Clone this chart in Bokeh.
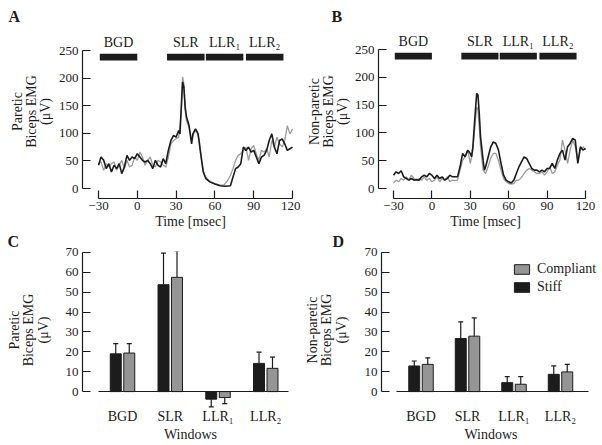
import numpy as np
from bokeh.plotting import figure
from bokeh.layouts import row, column
from bokeh.models import ColumnDataSource, FixedTicker, Legend, LegendItem, Range1d, LinearAxis
from bokeh.transform import dodge
from bokeh.core.properties import value
from bokeh.embed import file_html
from bokeh.resources import INLINE

FONT = "Liberation Serif"
INK = "#1c1c1c"
GRAY = "#9c9c9c"
BARGRAY = "#959595"

# ---------------- data ----------------
windows = ["BGD", "SLR", "LLR\u2081", "LLR\u2082"]
win_start = [-29, 23, 53, 84]
win_end = [0, 52, 82, 113]

time_ticks = [-30, 0, 30, 60, 90, 120]
emg_ticks = [0, 50, 100, 150, 200, 250]
bar_ticks = [0, 10, 20, 30, 40, 50, 60, 70]

# Panel A: paretic biceps EMG traces (uV)
t_pa_stiff = [-30, -28, -26, -24, -22, -20, -18, -16, -14, -12, -10, -8, -6, -4, -2, 0, 2, 4, 6, 8,
              10, 12, 14, 16, 18, 20, 22, 24, 26, 28, 30, 32, 33, 34, 35, 36, 37, 38, 40, 42,
              43, 45, 47, 49, 51, 53, 56, 60, 64, 68, 72, 74, 76, 78, 80, 82, 84, 86, 88, 90,
              92, 94, 96, 98, 100, 102, 104, 106, 108, 110, 112, 114, 116, 118, 120]
emg_pa_stiff = [42, 57, 51, 36, 45, 30, 42, 36, 45, 27, 39, 60, 51, 57, 54, 63, 57, 51, 48, 51,
                45, 36, 51, 42, 39, 54, 45, 69, 87, 96, 93, 105, 99, 148, 193, 184, 148, 130, 114, 81,
                99, 108, 99, 63, 30, 18, 12, 8, 5, 4, 5, 21, 36, 39, 45, 75, 69, 75, 66, 69,
                57, 45, 57, 60, 69, 87, 99, 75, 63, 87, 90, 81, 69, 72, 75]
t_pa_comp = [-30, -28, -26, -24, -22, -20, -18, -16, -14, -12, -10, -8, -6, -4, -2, 0, 2, 4, 6, 8,
             10, 12, 14, 16, 18, 20, 22, 24, 26, 28, 30, 32, 34, 35, 36, 37, 38, 40, 42, 44,
             46, 48, 50, 52, 55, 60, 64, 67, 70, 72, 74, 76, 78, 80, 82, 84, 86, 88, 90, 92,
             94, 96, 98, 100, 102, 104, 106, 108, 110, 112, 114, 116, 118, 120]
emg_pa_comp = [45, 48, 33, 45, 39, 45, 48, 33, 42, 51, 36, 51, 39, 42, 57, 51, 66, 57, 42, 51,
               57, 42, 39, 51, 48, 42, 39, 57, 81, 87, 90, 93, 136, 202, 190, 142, 123, 111, 87, 102,
               105, 87, 45, 24, 15, 9, 6, 6, 15, 24, 36, 51, 60, 63, 69, 75, 51, 72, 78, 63,
               51, 69, 66, 72, 57, 87, 75, 93, 81, 75, 87, 114, 99, 108]

# Panel B: non-paretic biceps EMG traces (uV)
t_np_stiff = [-30, -28, -26, -24, -22, -20, -18, -16, -14, -12, -10, -8, -6, -4, -2, 0, 2, 4, 6, 8,
              10, 12, 14, 16, 18, 20, 22, 24, 26, 28, 30, 31, 32, 34, 35, 36, 37, 38, 40, 41,
              42, 44, 46, 48, 50, 52, 54, 56, 58, 60, 62, 64, 66, 68, 70, 72, 74, 76, 78, 80,
              82, 84, 86, 88, 90, 92, 94, 96, 98, 100, 102, 104, 106, 108, 110, 112, 114, 116, 118, 120]
emg_np_stiff = [24, 30, 27, 32, 21, 18, 15, 18, 15, 16, 15, 21, 24, 21, 27, 24, 18, 24, 18, 21,
                15, 18, 24, 21, 21, 21, 39, 63, 57, 69, 63, 57, 75, 141, 171, 168, 135, 93, 51, 33,
                39, 57, 75, 84, 81, 69, 45, 24, 15, 12, 10, 15, 27, 39, 48, 57, 54, 45, 36, 33,
                33, 30, 33, 30, 36, 36, 45, 36, 51, 63, 69, 51, 75, 81, 90, 87, 45, 75, 69, 72]
t_np_comp = [-30, -28, -26, -24, -22, -20, -18, -16, -14, -12, -10, -8, -6, -4, -2, 0, 2, 4, 6, 8,
             10, 12, 14, 16, 18, 20, 22, 24, 26, 28, 30, 32, 34, 35, 36, 37, 38, 40, 42, 44,
             46, 48, 50, 52, 54, 56, 58, 60, 62, 64, 66, 68, 70, 72, 74, 76, 78, 80, 82, 84,
             86, 88, 90, 92, 94, 96, 98, 100, 102, 104, 106, 108, 110, 112, 114, 116, 118, 120]
emg_np_comp = [10, 15, 12, 18, 15, 21, 15, 24, 18, 15, 18, 15, 21, 15, 18, 12, 15, 21, 12, 18,
               15, 21, 12, 15, 14, 15, 33, 51, 57, 69, 45, 69, 123, 147, 141, 111, 75, 33, 27, 40,
               55, 63, 63, 50, 33, 18, 12, 9, 8, 9, 15, 15, 20, 27, 33, 36, 33, 30, 27, 27,
               30, 24, 30, 39, 27, 30, 42, 51, 87, 69, 45, 69, 87, 75, 51, 69, 75, 70]

# Panels C/D: window means and SEM (uV)
pa_stiff_mean = [19.0, 53.8, -3.8, 14.2]
pa_stiff_sem = [5.1, 15.9, 3.9, 5.7]
pa_comp_mean = [19.4, 57.5, -3.0, 11.7]
pa_comp_sem = [4.7, 13.3, 3.0, 5.7]
np_stiff_mean = [12.9, 26.7, 4.5, 8.7]
np_stiff_sem = [2.5, 8.4, 3.0, 4.2]
np_comp_mean = [13.7, 27.9, 3.7, 9.9]
np_comp_sem = [3.3, 9.2, 3.8, 3.8]


# ---------------- helpers ----------------
def make_fig(origin, size, frame, xa, ya, letter, letter_left, letter_valign):
    ox, oy = origin
    W, H = size
    L, T, R, B = frame
    (xv0, xp0), (xv1, xp1) = xa
    (yv0, yp0), (yv1, yp1) = ya
    sx = (xp1 - xp0) / (xv1 - xv0)
    sy = (yp0 - yp1) / (yv1 - yv0)

    def fx(px):
        return xv0 + (px - xp0) / sx

    def fy(py):
        return yv0 + (yp0 - py) / sy

    p = figure(width=W, height=H, x_range=Range1d(fx(L), fx(R)), y_range=Range1d(fy(B), fy(T)),
               output_backend="svg", toolbar_location=None,
               min_border_left=L - ox, min_border_right=ox + W - R,
               min_border_top=T - oy, min_border_bottom=oy + H - B)
    p.outline_line_color = None
    p.xgrid.visible = False
    p.ygrid.visible = False
    p.background_fill_color = "white"
    p.border_fill_color = "white"
    p.title.text = letter
    p.title.text_font = FONT
    p.title.text_font_size = "16px"
    p.title.text_font_style = "bold"
    p.title.text_color = INK
    p.title.align = "left"
    p.title.vertical_align = letter_valign
    p.title.offset = letter_left - L
    p.title.standoff = 0
    return p, fx, fy, sx


def style_axis(ax, tick_size, label_size):
    ax.axis_line_color = INK
    ax.axis_line_width = 1.2
    ax.major_tick_line_color = INK
    ax.major_tick_line_width = 1.2
    ax.major_tick_in = 8
    ax.major_tick_out = 0
    ax.minor_tick_line_color = None
    ax.major_label_text_font = FONT
    ax.major_label_text_font_size = tick_size
    ax.major_label_text_color = INK
    ax.axis_label_text_font = FONT
    ax.axis_label_text_font_size = label_size
    ax.axis_label_text_font_style = "normal"
    ax.axis_label_text_color = INK
    ax.axis_label_text_line_height = 0.95


def trace_panel(origin, size, frame, xa, ya, ts, vs, tc, vc, ylabel, ylab_standoff, let, let_left):
    p, fx, fy, sx = make_fig(origin, size, frame, xa, ya, let, let_left, "bottom")
    p.line(tc, vc, color=GRAY, line_width=1.3)
    p.line(ts, vs, color=INK, line_width=1.6)
    p.quad(left=win_start, right=win_end, bottom=232, top=244, fill_color=INK, line_color=None)
    mids = [(a + b) / 2 for a, b in zip(win_start, win_end)]
    p.text(x=mids, y=[264] * len(mids), text=windows, text_font=value(FONT), text_font_size="14px",
           text_align="center", text_baseline="middle", text_color=INK)

    xax = p.xaxis[0]
    style_axis(xax, "13px", "14px")
    xax.bounds = (time_ticks[0], time_ticks[-1])
    xax.ticker = FixedTicker(ticks=time_ticks)
    xax.major_label_standoff = 3
    xax.axis_label = "Time [msec]"
    xax.axis_label_standoff = 1

    yax = p.yaxis[0]
    style_axis(yax, "13px", "14px")
    yax.bounds = (emg_ticks[0], emg_ticks[-1])
    yax.ticker = FixedTicker(ticks=emg_ticks)
    yax.major_label_standoff = 4
    yax.axis_label = ylabel
    yax.axis_label_standoff = ylab_standoff
    return p


def bar_panel(origin, size, frame, xa, ya, sm, se, cm, ce, ylabel, ylab_standoff, let, let_left,
              line_px, legend_loc=None):
    p, fx, fy, sx = make_fig(origin, size, frame, xa, ya, let, let_left, "top")
    off = 6.75 / sx
    w = 11.0 / sx
    idx = list(range(len(windows)))
    src = ColumnDataSource(dict(
        xi=idx, stiff=sm, comp=cm,
        s_end=[m + np.sign(m) * e for m, e in zip(sm, se)],
        c_end=[m + np.sign(m) * e for m, e in zip(cm, ce)],
    ))
    xs = dodge("xi", -off, range=p.x_range)
    xc = dodge("xi", off, range=p.x_range)
    for xx, top, end in ((xs, "stiff", "s_end"), (xc, "comp", "c_end")):
        p.segment(x0=xx, y0=top, x1=xx, y1=end, source=src, line_color=INK, line_width=1.2)
        p.scatter(x=xx, y=end, source=src, marker="dash", size=5, line_color=INK, line_width=1.2)
    rs = p.vbar(x=xs, top="stiff", bottom=0, width=w, source=src, fill_color=INK,
                line_color=INK, line_width=1)
    rc = p.vbar(x=xc, top="comp", bottom=0, width=w, source=src, fill_color=BARGRAY,
                line_color=INK, line_width=1)

    # zero line (baseline axis)
    zax = LinearAxis(fixed_location=0, bounds=(fx(line_px[0]), fx(line_px[1])),
                     ticker=FixedTicker(ticks=[]))
    style_axis(zax, "13px", "14px")
    zax.major_tick_in = 0
    p.add_layout(zax, "below")

    # category axis with window names
    xax = p.xaxis[0]
    style_axis(xax, "14px", "14px")
    xax.axis_line_color = None
    xax.ticker = FixedTicker(ticks=idx)
    xax.major_label_overrides = {i: n for i, n in zip(idx, windows)}
    xax.major_tick_in = 0
    xax.major_tick_out = 0
    xax.major_label_standoff = 0
    xax.axis_label = "Windows"
    xax.axis_label_standoff = 0

    yax = p.yaxis[0]
    style_axis(yax, "13px", "14px")
    yax.bounds = (bar_ticks[0], bar_ticks[-1])
    yax.ticker = FixedTicker(ticks=bar_ticks)
    yax.major_label_standoff = 4
    yax.axis_label = ylabel
    yax.axis_label_standoff = ylab_standoff

    if legend_loc is not None:
        lg = Legend(items=[LegendItem(label="Compliant", renderers=[rc]),
                           LegendItem(label="Stiff", renderers=[rs])],
                    location=legend_loc, margin=0, padding=0, spacing=2,
                    glyph_width=19, glyph_height=12, label_height=16, label_standoff=6,
                    label_text_font=FONT, label_text_font_size="14px", label_text_color=INK,
                    border_line_color=None, background_fill_alpha=0)
        p.add_layout(lg, "center")
    return p


pA = trace_panel((0, 0), (300, 232), (82, 24, 298, 198), ((-30, 98), (120, 292)), ((0, 188), (250, 50)),
                 t_pa_stiff, emg_pa_stiff, t_pa_comp, emg_pa_comp,
                 "Paretic\nBiceps EMG\n(\u03bcV)", 3, "A", 8)
pB = trace_panel((300, 0), (302, 232), (378, 24, 592, 198), ((-30, 393), (120, 585)), ((0, 188), (250, 49)),
                 t_np_stiff, emg_np_stiff, t_np_comp, emg_np_comp,
                 "Non-paretic\nBiceps EMG\n(\u03bcV)", 2, "B", 331)
pC = bar_panel((0, 232), (300, 213), (82, 250, 298, 408), ((0, 122), (3, 265.25)), ((0, 391), (70, 251)),
               pa_stiff_mean, pa_stiff_sem, pa_comp_mean, pa_comp_sem,
               "Paretic\nBiceps EMG\n(\u03bcV)", 12, "C", 7, (98, 288))
pD = bar_panel((300, 232), (302, 213), (381, 250, 600, 408), ((0, 420.5), (3, 560)), ((0, 391), (70, 251)),
               np_stiff_mean, np_stiff_sem, np_comp_mean, np_comp_sem,
               "Non-paretic\nBiceps EMG\n(\u03bcV)", 13, "D", 332, (396, 588), legend_loc=(131, 113))

layout = column(row(pA, pB), row(pC, pD))
open("out.html", "w").write(file_html(layout, INLINE))
